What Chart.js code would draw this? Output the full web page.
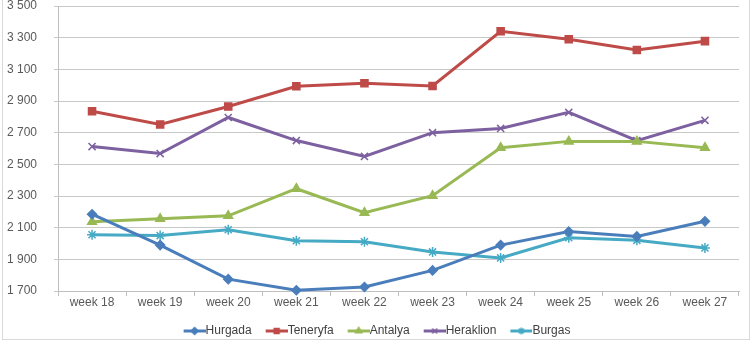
<!DOCTYPE html>
<html>
<head>
<meta charset="utf-8">
<script src="https://cdn.jsdelivr.net/npm/chart.js@4"></script>
<style>
  html, body { margin: 0; padding: 0; background: #fff; }
  #frame { position: absolute; left: 2px; top: -1px; width: 746px; height: 339px; border: 1px solid #d9d9d9; }
  #chart { position: absolute; left: 3px; top: 0; }
</style>
</head>
<body>
<div id="frame"></div>
<canvas id="chart" width="746" height="339"></canvas>
<script>
const weeks = ['week 18', 'week 19', 'week 20', 'week 21', 'week 22', 'week 23', 'week 24', 'week 25', 'week 26', 'week 27'];
const hurgada = [2185, 1990, 1775, 1705, 1725, 1830, 1990, 2075, 2045, 2140];
const teneryfa = [2835, 2752, 2865, 2993, 3012, 2995, 3340, 3290, 3222, 3278];
const antalya = [2137, 2156, 2175, 2346, 2195, 2302, 2605, 2645, 2645, 2605];
const heraklion = [2612, 2568, 2796, 2650, 2550, 2700, 2727, 2828, 2650, 2778];
const burgas = [2055, 2050, 2087, 2017, 2011, 1947, 1909, 2036, 2020, 1972];

const series = [
  { label: 'Hurgada', data: hurgada, color: '#4a7ebb', point: 'rectRot', r: 4.5 },
  { label: 'Teneryfa', data: teneryfa, color: '#be4b48', point: 'rect', r: 5 },
  { label: 'Antalya', data: antalya, color: '#98b954', point: 'triangle', r: 5 },
  { label: 'Heraklion', data: heraklion, color: '#7d60a0', point: 'crossRot', r: 5 },
  { label: 'Burgas', data: burgas, color: '#46aac5', point: 'star', r: 5 }
];

// legend icon: transparent gap on the left, then a short line with the marker
function legendIcon(s) {
  const c = document.createElement('canvas');
  c.width = 40; c.height = 10;
  const g = c.getContext('2d');
  g.strokeStyle = s.color; g.fillStyle = s.color; g.lineWidth = 3;
  g.beginPath(); g.moveTo(18, 5); g.lineTo(40, 5); g.stroke();
  g.lineWidth = 1.5;
  Chart.helpers.drawPoint(g, { pointStyle: s.point, radius: 3.5, rotation: 0, borderWidth: 1.5 }, 29, 5);
  return c;
}

const fmt = v => String(v).replace(/\B(?=(\d{3})+(?!\d))/g, ' ');

new Chart(document.getElementById('chart'), {
  type: 'line',
  data: {
    labels: weeks,
    datasets: series.map(s => ({
      label: s.label,
      data: s.data,
      borderColor: s.color,
      backgroundColor: s.color,
      borderWidth: 3,
      pointStyle: s.point,
      pointRadius: s.r,
      pointBorderWidth: 1.5,
      pointBorderColor: s.color,
      pointBackgroundColor: s.color,
      tension: 0,
      clip: false
    }))
  },
  options: {
    responsive: false,
    animation: false,
    layout: { autoPadding: false, padding: { top: 6, right: 10, left: 0, bottom: -8 } },
    plugins: {
      legend: {
        position: 'bottom',
        labels: {
          usePointStyle: true,
          pointStyleWidth: 28,
          color: '#404040',
          font: { family: 'Liberation Sans', size: 12 },
          padding: 2,
          generateLabels: chart => series.map((s, i) => ({
            text: s.label,
            pointStyle: legendIcon(s),
            fontColor: '#404040',
            datasetIndex: i,
            hidden: false,
            lineWidth: 0
          }))
        }
      },
      tooltip: { enabled: false }
    },
    scales: {
      x: {
        offset: true,
        afterFit: s => { s.height = 32; s.paddingLeft = 0; s.paddingRight = 0; },
        grid: { drawOnChartArea: false, offset: true, tickLength: 5, color: '#bfbfbf' },
        border: { color: '#bfbfbf' },
        ticks: { color: '#595959', font: { family: 'Liberation Sans', size: 12 }, padding: -1 }
      },
      y: {
        min: 1700,
        max: 3500,
        afterFit: s => { s.width = 55; s.paddingTop = 0; s.paddingBottom = 0; },
        ticks: {
          stepSize: 200,
          color: '#595959',
          font: { family: 'Liberation Sans', size: 12 },
          padding: 17,
          callback: v => fmt(v)
        },
        grid: { color: '#c8c8c8', tickLength: 4 },
        border: { color: '#bfbfbf' }
      }
    }
  }
});
</script>
</body>
</html>
